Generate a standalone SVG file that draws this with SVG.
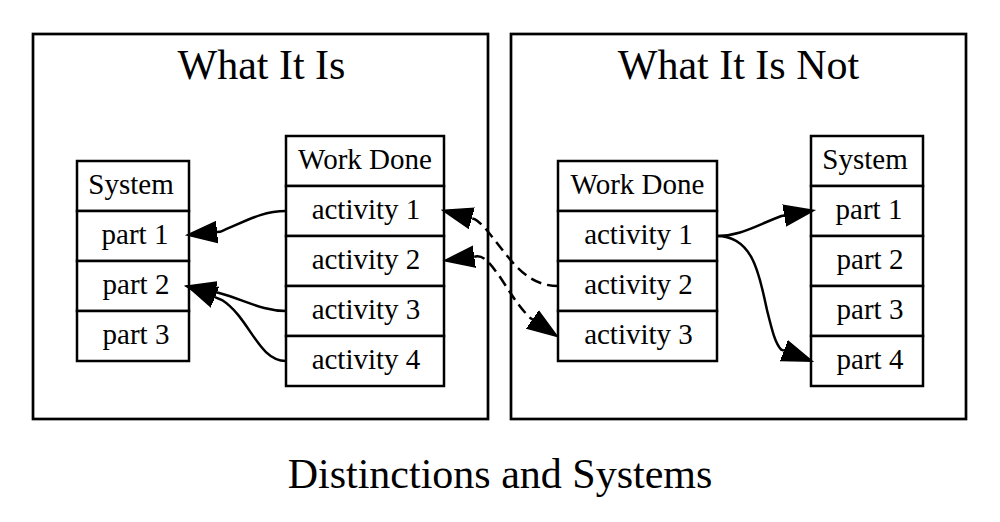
<svg xmlns="http://www.w3.org/2000/svg" width="1000" height="522" viewBox="0 0 1000 522">
<style>
  text { font-family: "Liberation Serif", "Times New Roman", serif; fill: #000; }
  .title { font-size: 42px; text-anchor: middle; }
  .cell { font-size: 29px; text-anchor: middle; }
  .cluster { fill: none; stroke: #000; stroke-width: 2.7; }
  .box { fill: #fff; stroke: #000; stroke-width: 2.5; }
  .edge { fill: none; stroke: #000; stroke-width: 2.5; }
  .dashed { stroke-dasharray: 11 6; }
</style>
<defs>
  <marker id="arrow" markerUnits="userSpaceOnUse" markerWidth="32" markerHeight="23" refX="0" refY="11.5" orient="auto-start-reverse" viewBox="0 0 32 23">
    <path d="M0,1 L30,11.5 L0,22 z" fill="#000" stroke="#000" stroke-width="1.5"/>
  </marker>
</defs>
<rect width="1000" height="522" fill="#fff"/>

<g id="cluster-is">
  <rect class="cluster" x="33" y="34" width="455" height="385"/>
  <text class="title" x="261.5" y="79">What It Is</text>
</g>
<g id="cluster-isnot">
  <rect class="cluster" x="511" y="34" width="455" height="385"/>
  <text class="title" x="738.5" y="79">What It Is Not</text>
</g>

<g id="is-system">
  <rect class="box" x="77" y="161" width="112" height="50"/>
  <rect class="box" x="77" y="211" width="112" height="50"/>
  <rect class="box" x="77" y="261" width="112" height="50"/>
  <rect class="box" x="77" y="311" width="112" height="50"/>
  <text class="cell" x="131" y="194">System</text>
  <text class="cell" x="135" y="244">part 1</text>
  <text class="cell" x="136" y="294">part 2</text>
  <text class="cell" x="136" y="344">part 3</text>
</g>

<g id="is-workdone">
  <rect class="box" x="286" y="136" width="158" height="50"/>
  <rect class="box" x="286" y="186" width="158" height="50"/>
  <rect class="box" x="286" y="236" width="158" height="50"/>
  <rect class="box" x="286" y="286" width="158" height="50"/>
  <rect class="box" x="286" y="336" width="158" height="50"/>
  <text class="cell" x="365" y="169">Work Done</text>
  <text class="cell" x="366" y="219">activity 1</text>
  <text class="cell" x="366" y="269">activity 2</text>
  <text class="cell" x="366" y="319">activity 3</text>
  <text class="cell" x="366" y="369">activity 4</text>
</g>

<g id="isnot-workdone">
  <rect class="box" x="558" y="161" width="159" height="50"/>
  <rect class="box" x="558" y="211" width="159" height="50"/>
  <rect class="box" x="558" y="261" width="159" height="50"/>
  <rect class="box" x="558" y="311" width="159" height="50"/>
  <text class="cell" x="637.5" y="194">Work Done</text>
  <text class="cell" x="638.5" y="244">activity 1</text>
  <text class="cell" x="638.5" y="294">activity 2</text>
  <text class="cell" x="638.5" y="344">activity 3</text>
</g>

<g id="isnot-system">
  <rect class="box" x="811" y="136" width="112" height="50"/>
  <rect class="box" x="811" y="186" width="112" height="50"/>
  <rect class="box" x="811" y="236" width="112" height="50"/>
  <rect class="box" x="811" y="286" width="112" height="50"/>
  <rect class="box" x="811" y="336" width="112" height="50"/>
  <text class="cell" x="865" y="169">System</text>
  <text class="cell" x="869" y="219">part 1</text>
  <text class="cell" x="870" y="269">part 2</text>
  <text class="cell" x="870" y="319">part 3</text>
  <text class="cell" x="870" y="369">part 4</text>
</g>

<g id="connectors">
  <path class="edge" marker-end="url(#arrow)" d="M286,211 C262,211 246,221 220,231.8 L217,232.1"/>
  <path class="edge" marker-end="url(#arrow)" d="M286,311 C262,311 245,300 218.3,292.8 L215.3,292.2"/>
  <path class="edge" marker-end="url(#arrow)" d="M286,361 C258,361 250,318 222,300 L214.9,297.1"/>
  <path class="edge dashed" marker-end="url(#arrow)" d="M558,286 C528,286 512,262 497,243 C489,233 482,223 474.6,219.1 L471.7,218.3"/>
  <path class="edge dashed" marker-start="url(#arrow)" marker-end="url(#arrow)" d="M474.2,256.7 L477.2,256.3 C485,256 492,266 500,277 C510,292 518,306 530,317.8 L532.5,319.5"/>
  <path class="edge" marker-end="url(#arrow)" d="M717,236 C740,236 755,226 781.4,216 L784.3,215.5"/>
  <path class="edge" marker-end="url(#arrow)" d="M717,236 C755,236 760,280 767,310 C772,330 775,343 781.2,349.65 L784,350.7"/>
</g>

<text class="title" x="500" y="488">Distinctions and Systems</text>
</svg>
